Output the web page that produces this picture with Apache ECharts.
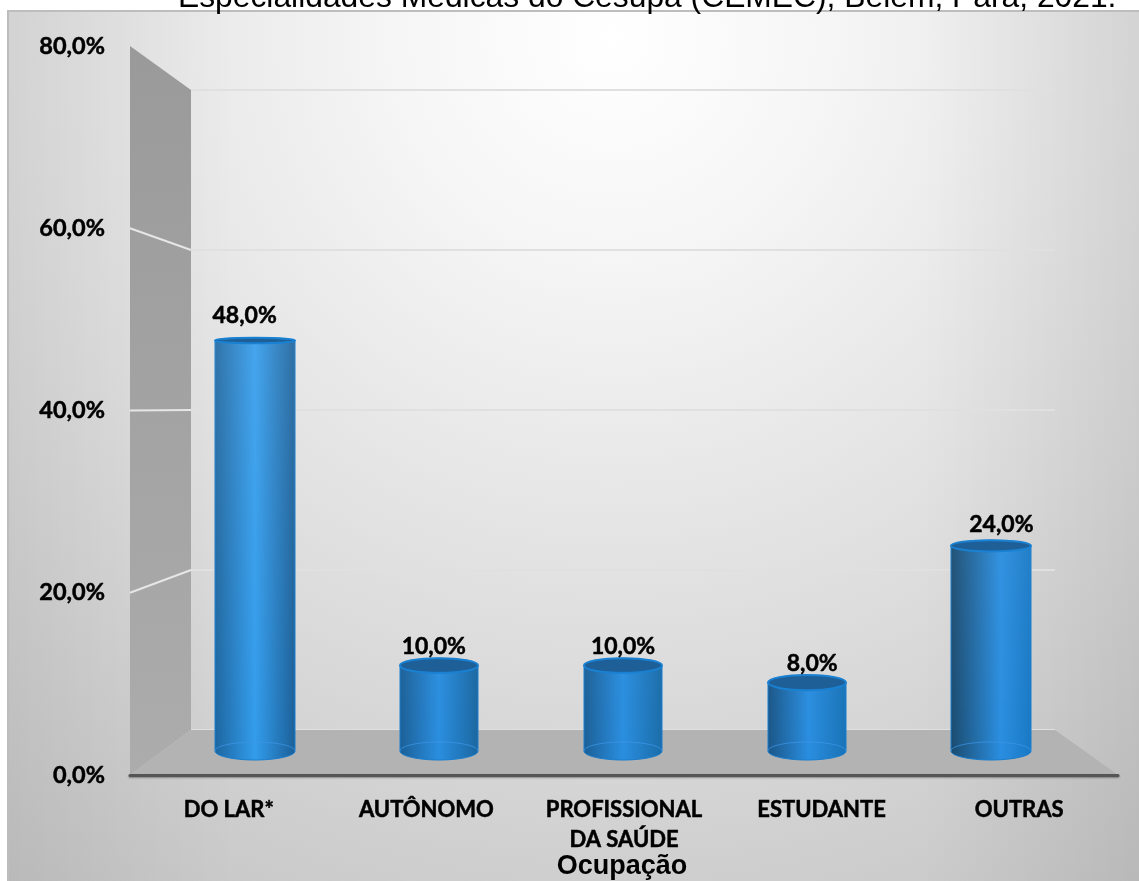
<!DOCTYPE html>
<html>
<head>
<meta charset="utf-8">
<style>html,body{margin:0;padding:0;background:#fff}#c{width:1139px;height:881px}</style>
<script src="https://cdn.jsdelivr.net/npm/echarts@6/dist/echarts.min.js"></script>
</head>
<body>
<div id="c"></div>
<script>
const titleText = 'Especialidades Médicas do Cesupa (CEMEC), Belém, Pará, 2021.';
const axisName = 'Ocupação';
const categories = ['DO LAR*', 'AUTÔNOMO', 'PROFISSIONAL\nDA SAÚDE', 'ESTUDANTE', 'OUTRAS'];
const values = [48, 10, 10, 8, 24];
const yTicks = [0, 20, 40, 60, 80];

const W = 1139, H = 881;
const FRONT = { left: 130, right: 1118, top: 46, bottom: 775 };
const BACK = { left: 191, right: 1055, top: 90, bottom: 730 };
const MID = { left: 163, right: 1083, top: 67, bottom: 751 };
const LABEL = '"Lato", "Carlito", sans-serif';
const ARIAL = '"Liberation Sans", Arial, sans-serif';
const pct = v => v.toFixed(1).replace('.', ',') + '%';
const rect = r => ({ left: r.left, top: r.top, width: r.right - r.left, height: r.bottom - r.top });
const frontY = v => FRONT.bottom - (v / 80) * (FRONT.bottom - FRONT.top);

function ellipseArc(cx, cy, rx, ry, from, to, n) {
  const pts = [];
  for (let k = 0; k <= n; k++) {
    const a = from + (to - from) * k / n;
    pts.push([cx + rx * Math.cos(a), cy + ry * Math.sin(a)]);
  }
  return pts;
}

function renderShell(params, api) {
  const v = api.value(1);
  const b = api.coord([0, v]);
  const children = [];
  if (v === 0) {
    const bTop = api.coord([0, yTicks[yTicks.length - 1]]);
    const bEnd = api.coord([1, 0]);
    children.push({
      type: 'polygon',
      shape: { points: [[FRONT.left, frontY(80)], bTop, b, [FRONT.left, FRONT.bottom]] },
      style: { fill: { type: 'linear', x: 0, y: 0, x2: 0, y2: 1, colorStops: [{ offset: 0, color: '#9a9a9a' }, { offset: 1, color: '#acacac' }] } }
    });
    children.push({
      type: 'polygon',
      shape: { points: [[FRONT.left, FRONT.bottom], b, bEnd, [FRONT.right, FRONT.bottom]] },
      style: { fill: '#b3b3b3' }
    });
  } else if (v < yTicks[yTicks.length - 1]) {
    children.push({
      type: 'line',
      shape: { x1: FRONT.left, y1: frontY(v), x2: b[0], y2: b[1] },
      style: { stroke: '#e6e6e6', lineWidth: 2 }
    });
  }
  return { type: 'group', children };
}

function bodyFill(i) {
  const leftDark = ['#1c659f', '#1b5f96', '#1b5f96', '#1a5587', '#1a4a6e'][i];
  const peak = [0.5, 0.5, 0.5, 0.52, 0.62][i];
  const bright = i === 0 ? '#329cec' : '#2a8ee0';
  const rightEnd = ['#1a5f98', '#1a669f', '#1a6ca8', '#1872b6', '#1878c4'][i];
  return {
    type: 'linear', x: 0, y: 0, x2: 1, y2: 0,
    colorStops: [
      { offset: 0, color: leftDark },
      { offset: peak, color: bright },
      { offset: 1, color: rightEnd }
    ]
  };
}

function renderBar(params, api) {
  const i = api.value(0), v = api.value(1);
  const top = api.coord([i, v]);
  const base = api.coord([i, 0]);
  const cx = top[0];
  const rx = (Math.abs(i - 2) === 2 ? 80 : 78) / 2;
  const ryB = 9;
  const ryT = 8.5 - v * 0.12;
  const body = [].concat(
    ellipseArc(cx, top[1], rx, ryT, Math.PI, 2 * Math.PI, 24),
    ellipseArc(cx, base[1], rx, ryB, 0, Math.PI, 24)
  );
  const capFront = ellipseArc(cx, base[1], rx, ryB, Math.PI, 2 * Math.PI, 24);
  return {
    type: 'group',
    children: [
      { type: 'polygon', shape: { points: body }, style: { fill: bodyFill(i), stroke: '#1a7dcc', lineWidth: 1 } },
      { type: 'polygon', shape: { points: body }, style: { fill: { type: 'linear', x: 0, y: 0, x2: 0, y2: 1, colorStops: [
        { offset: 0, color: 'rgba(255,255,255,' + (v * 0.002).toFixed(3) + ')' },
        { offset: 1, color: 'rgba(255,255,255,0)' }
      ] } } },
      { type: 'polyline', shape: { points: capFront }, style: { fill: 'none', stroke: 'rgba(60,150,230,0.75)', lineWidth: 1 } },
      { type: 'ellipse', shape: { cx, cy: top[1], rx, ry: ryT }, style: { fill: '#1d5f96', stroke: '#1a80d2', lineWidth: 2 } },
      {
        type: 'text',
        style: {
          text: pct(v),
          x: cx + (i - 2) * 5.2,
          y: top[1] - ryT - 9 - v * 0.28,
          align: 'center', verticalAlign: 'middle',
          font: 'bold 23px ' + LABEL, fill: '#000', stroke: '#000', lineWidth: 0.5
        }
      }
    ]
  };
}

const chart = echarts.init(document.getElementById('c'), null, { renderer: 'canvas', width: W, height: H });
chart.setOption({
  animation: false,
  backgroundColor: '#fff',
  title: {
    text: titleText, left: 173, top: -23,
    textStyle: { fontFamily: ARIAL, fontWeight: 'normal', fontSize: 31.8, color: '#000' }
  },
  graphic: [{
    type: 'rect', z: -10, silent: true,
    shape: { x: 8, y: 11, width: W, height: H },
    style: {
      fill: { type: 'radial', x: 0.53, y: 0.03, r: 1.2, colorStops: [
        { offset: 0, color: '#ffffff' },
        { offset: 0.2, color: '#f6f6f6' },
        { offset: 0.4, color: '#e9e9e9' },
        { offset: 0.6, color: '#dcdcdc' },
        { offset: 0.82, color: '#cdcdcd' },
        { offset: 1, color: '#c2c2c2' }
      ] },
      stroke: '#bdbdbd', lineWidth: 2
    }
  }, {
    type: 'rect', z: -9, silent: true,
    shape: { x: 9, y: 12, width: W, height: H },
    style: {
      fill: { type: 'linear', x: 0, y: 0, x2: 1, y2: 0, colorStops: [
        { offset: 0, color: 'rgba(0,0,0,0.05)' },
        { offset: 0.2, color: 'rgba(0,0,0,0)' },
        { offset: 0.8, color: 'rgba(0,0,0,0)' },
        { offset: 1, color: 'rgba(0,0,0,0.07)' }
      ] }
    }
  }],
  grid: [rect(FRONT), rect(BACK), rect(MID)].map(g => Object.assign(g, { containLabel: false, outerBoundsMode: 'none' })),
  xAxis: [
    {
      gridIndex: 0, type: 'category', data: categories, z: 5,
      axisTick: { show: false },
      axisLine: { onZero: false, lineStyle: { color: '#555', width: 3, shadowColor: 'rgba(0,0,0,0.35)', shadowBlur: 2, shadowOffsetY: 1 } },
      axisLabel: { interval: 0, margin: 20, lineHeight: 30, fontFamily: LABEL, fontWeight: 'bold', fontSize: 22, color: '#000', textBorderColor: '#000', textBorderWidth: 0.5 },
      name: axisName, nameLocation: 'middle', nameGap: 78, nameMoveOverlap: false,
      nameTextStyle: { fontFamily: ARIAL, fontWeight: 'bold', fontSize: 27, color: '#000', padding: [0, 4, 0, 0] }
    },
    { gridIndex: 1, type: 'value', min: 0, max: 1, show: false, splitLine: { show: false } },
    { gridIndex: 2, type: 'category', data: categories, show: false }
  ],
  yAxis: [
    {
      gridIndex: 0, type: 'value', min: 0, max: 80, interval: 20,
      axisLine: { show: false }, axisTick: { show: false }, splitLine: { show: false },
      axisLabel: { margin: 25, padding: [3, 0, 0, 0], formatter: pct, fontFamily: LABEL, fontWeight: 'bold', fontSize: 23.5, color: '#000', textBorderColor: '#000', textBorderWidth: 0.5 }
    },
    {
      gridIndex: 1, type: 'value', min: 0, max: 80, interval: 20,
      axisLine: { show: false }, axisTick: { show: false }, axisLabel: { show: false },
      splitLine: { show: true, lineStyle: { color: '#e0e0e0', width: 2 } }
    },
    { gridIndex: 2, type: 'value', min: 0, max: 80, show: false, splitLine: { show: false } }
  ],
  series: [
    {
      type: 'custom', xAxisIndex: 1, yAxisIndex: 1, z: 1, silent: true,
      renderItem: renderShell, clip: false,
      encode: { x: 0, y: 1 },
      data: yTicks.map(t => [0, t])
    },
    {
      type: 'custom', xAxisIndex: 2, yAxisIndex: 2, z: 3, silent: true,
      renderItem: renderBar, clip: false,
      encode: { x: 0, y: 1 },
      data: values.map((v, i) => [i, v])
    }
  ]
});
</script>
</body>
</html>
